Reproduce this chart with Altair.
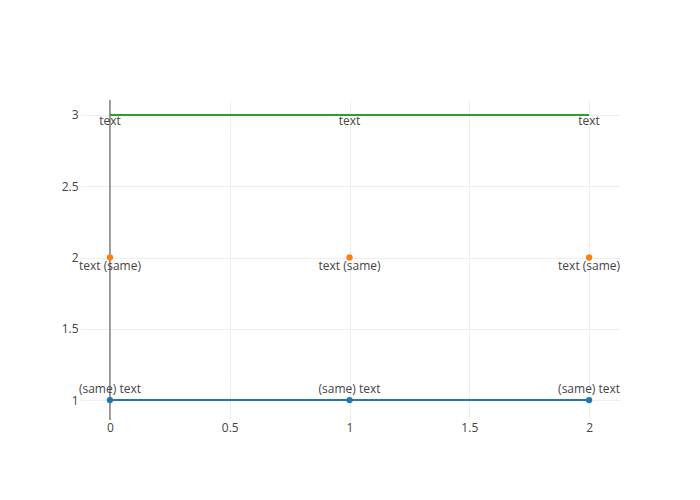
import altair as alt
import pandas as pd

x_vals = [0, 1, 2]
blue_y = [1, 1, 1]
orange_y = [2, 2, 2]
green_y = [3, 3, 3]
blue_text = ["(same) text", "(same) text", "(same) text"]
orange_text = ["text (same)", "text (same)", "text (same)"]
green_text = ["text", "text", "text"]
x_ticks = [0, 0.5, 1, 1.5, 2]
y_ticks = [1, 1.5, 2, 2.5, 3]

blue = pd.DataFrame({"x": x_vals, "y": blue_y, "t": blue_text})
orange = pd.DataFrame({"x": x_vals, "y": orange_y, "t": orange_text})
green = pd.DataFrame({"x": x_vals, "y": green_y, "t": green_text})

xs = alt.Scale(domain=[-0.125, 2.129], nice=False, zero=False)
ys = alt.Scale(domain=[0.86, 3.105], nice=False, zero=False)

axis_common = dict(domain=False, ticks=False, gridColor="#eeeeee", gridWidth=1,
                   labelFont="Open Sans", labelFontSize=12, labelColor="#444444",
                   format="~g", title=None)
X = alt.X("x:Q", scale=xs, axis=alt.Axis(values=x_ticks, labelPadding=2, **axis_common))
Y = alt.Y("y:Q", scale=ys, axis=alt.Axis(values=y_ticks, labelPadding=2, **axis_common))

zero = alt.Chart(pd.DataFrame({"x": [0]})).mark_rule(color="#444444", strokeWidth=1).encode(
    x=alt.X("x:Q", scale=xs))

green_line = alt.Chart(green).mark_line(color="#2ca02c", strokeWidth=2).encode(x=X, y=Y)
green_txt = alt.Chart(green).mark_text(baseline="top", dy=1, font="Open Sans", fontSize=12,
                                       color="#444444").encode(x=X, y=Y, text="t:N")

orange_pts = alt.Chart(orange).mark_point(filled=True, color="#ff7f0e", size=40, opacity=1).encode(x=X, y=Y)
orange_txt = alt.Chart(orange).mark_text(baseline="top", dy=3, font="Open Sans", fontSize=12,
                                         color="#444444").encode(x=X, y=Y, text="t:N")

blue_line = alt.Chart(blue).mark_line(color="#1f77b4", strokeWidth=2).encode(x=X, y=Y)
blue_pts = alt.Chart(blue).mark_point(filled=True, color="#1f77b4", size=40, opacity=1).encode(x=X, y=Y)
blue_txt = alt.Chart(blue).mark_text(baseline="bottom", dy=-4, font="Open Sans", fontSize=12,
                                     color="#444444").encode(x=X, y=Y, text="t:N")

chart = alt.layer(zero, green_line, green_txt, orange_pts, orange_txt, blue_line, blue_pts, blue_txt).properties(
    width=540, height=320,
    autosize=alt.AutoSizeParams(type="none"),
    padding={"left": 72, "top": 92, "right": 72, "bottom": 72},
).configure_view(stroke=None)

chart.save("out.html", embed_options={"renderer": "svg", "actions": False})
